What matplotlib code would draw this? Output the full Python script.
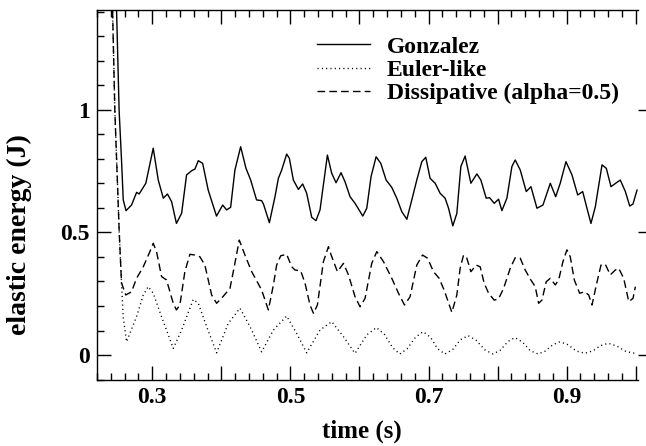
import matplotlib
matplotlib.use("Agg")
import matplotlib.pyplot as plt
from matplotlib.ticker import MultipleLocator, FixedLocator, FixedFormatter

# ---- data ----
gonz_t = [0.2455, 0.2483, 0.252, 0.2555, 0.258, 0.262, 0.270, 0.2774, 0.281, 0.2907,
          0.3014, 0.3087, 0.316, 0.322, 0.328, 0.335, 0.3425, 0.3497, 0.357, 0.3618,
          0.3667, 0.373, 0.381, 0.393, 0.402, 0.4077, 0.4135, 0.4197, 0.428, 0.4357,
          0.4425, 0.451, 0.4584, 0.461, 0.4696, 0.4777, 0.4826, 0.4874, 0.4946, 0.4985,
          0.5043, 0.5116, 0.5178, 0.5236, 0.5309, 0.537, 0.5429, 0.5536, 0.5599, 0.5661,
          0.5733, 0.5791, 0.5864, 0.5936, 0.5986, 0.6048, 0.6106, 0.6168, 0.6241, 0.6309,
          0.6386, 0.6468, 0.654, 0.6613, 0.6686, 0.6758, 0.683, 0.6903, 0.696, 0.7023,
          0.7096, 0.7168, 0.724, 0.729, 0.7352, 0.741, 0.7468, 0.753, 0.7613, 0.77,
          0.7758, 0.7835, 0.7884, 0.7951, 0.8014, 0.8062, 0.8135, 0.8207, 0.8255, 0.8328,
          0.8415, 0.8483, 0.857, 0.8657, 0.8763, 0.8841, 0.8907, 0.899, 0.9077, 0.916,
          0.9232, 0.9294, 0.9352, 0.9415, 0.9512, 0.9574, 0.9642, 0.972, 0.9777, 0.985,
          0.9913, 0.996, 1.0019]
gonz_e = [1.7, 1.41, 1.0, 0.796, 0.633, 0.589, 0.612, 0.664, 0.657, 0.701,
          0.844, 0.714, 0.640, 0.657, 0.626, 0.537, 0.578, 0.735, 0.752, 0.759,
          0.793, 0.782, 0.673, 0.567, 0.612, 0.592, 0.603, 0.755, 0.850, 0.762,
          0.714, 0.633, 0.630, 0.616, 0.540, 0.646, 0.721, 0.755, 0.820, 0.803,
          0.714, 0.676, 0.698, 0.660, 0.562, 0.548, 0.592, 0.816, 0.741, 0.703,
          0.744, 0.707, 0.646, 0.619, 0.596, 0.567, 0.599, 0.728, 0.809, 0.782,
          0.714, 0.684, 0.640, 0.585, 0.554, 0.633, 0.714, 0.789, 0.807, 0.721,
          0.701, 0.660, 0.640, 0.599, 0.527, 0.578, 0.769, 0.812, 0.701, 0.739,
          0.714, 0.640, 0.642, 0.619, 0.636, 0.589, 0.640, 0.769, 0.796, 0.755,
          0.667, 0.687, 0.599, 0.612, 0.701, 0.646, 0.701, 0.789, 0.735, 0.653,
          0.667, 0.599, 0.537, 0.605, 0.776, 0.762, 0.687, 0.703, 0.714, 0.667,
          0.608, 0.616, 0.673]

euler_t = [0.2405, 0.2425, 0.2458, 0.2522, 0.2555, 0.2579, 0.2628, 0.2772, 0.287, 0.2942,
           0.3014, 0.3135, 0.3304, 0.3425, 0.3594, 0.3667, 0.3787, 0.3932, 0.410, 0.427,
           0.4415, 0.4584, 0.4754, 0.4946, 0.5091, 0.5236, 0.5429, 0.5599, 0.5768, 0.5936,
           0.6106, 0.6246, 0.636, 0.648, 0.6584, 0.669, 0.681, 0.6922, 0.703, 0.713,
           0.7236, 0.735, 0.746, 0.7574, 0.769, 0.782, 0.7936, 0.804, 0.815, 0.8251,
           0.836, 0.847, 0.8588, 0.869, 0.880, 0.8903, 0.902, 0.914, 0.9265, 0.938,
           0.949, 0.9603, 0.973, 0.986, 0.999]
euler_e = [1.7, 1.41, 1.0, 0.5, 0.294, 0.156, 0.054, 0.156, 0.245, 0.279,
           0.252, 0.156, 0.027, 0.102, 0.227, 0.211, 0.116, 0.009, 0.129, 0.191,
           0.116, 0.013, 0.102, 0.159, 0.088, 0.009, 0.102, 0.136, 0.075, 0.007,
           0.082, 0.112, 0.085, 0.030, 0.004, 0.025, 0.072, 0.095, 0.072, 0.026,
           0.004, 0.022, 0.062, 0.079, 0.060, 0.020, 0.004, 0.020, 0.055, 0.071,
           0.053, 0.018, 0.004, 0.016, 0.042, 0.054, 0.042, 0.016, 0.007, 0.017,
           0.038, 0.048, 0.036, 0.014, 0.007]

diss_t = [0.2405, 0.2425, 0.2458, 0.2522, 0.2555, 0.2617, 0.270, 0.2773, 0.287, 0.2966,
          0.3014, 0.3062, 0.3135, 0.3207, 0.3304, 0.335, 0.34, 0.3472, 0.3545, 0.3617,
          0.369, 0.3762, 0.386, 0.3932, 0.4023, 0.4125, 0.4183, 0.426, 0.4342, 0.444,
          0.4584, 0.4681, 0.4754, 0.4801, 0.486, 0.4946, 0.5019, 0.5067, 0.515, 0.5212,
          0.5284, 0.5334, 0.5391, 0.5478, 0.5551, 0.5599, 0.5681, 0.5768, 0.5841, 0.5936,
          0.6009, 0.6081, 0.6178, 0.6251, 0.6348, 0.6468, 0.6565, 0.6652, 0.6733, 0.683,
          0.6913, 0.6986, 0.7072, 0.7154, 0.7226, 0.7338, 0.741, 0.7458, 0.7507, 0.7555,
          0.7613, 0.769, 0.7748, 0.7806, 0.787, 0.7951, 0.8014, 0.8087, 0.8183, 0.8255,
          0.8328, 0.84, 0.8473, 0.8545, 0.8594, 0.8642, 0.8704, 0.8763, 0.8835, 0.8884,
          0.8946, 0.9004, 0.9052, 0.9111, 0.9188, 0.9261, 0.9319, 0.9367, 0.943, 0.9497,
          0.956, 0.9632, 0.9705, 0.9754, 0.9826, 0.9899, 0.9961, 0.9995]
diss_e = [1.7, 1.41, 1.0, 0.5, 0.294, 0.245, 0.258, 0.313, 0.360, 0.422,
          0.456, 0.422, 0.320, 0.306, 0.211, 0.184, 0.204, 0.340, 0.411, 0.408,
          0.401, 0.367, 0.245, 0.211, 0.238, 0.272, 0.354, 0.469, 0.408, 0.340,
          0.265, 0.184, 0.286, 0.367, 0.405, 0.411, 0.360, 0.347, 0.343, 0.293,
          0.204, 0.170, 0.204, 0.381, 0.442, 0.401, 0.340, 0.374, 0.327, 0.238,
          0.197, 0.231, 0.374, 0.422, 0.381, 0.313, 0.252, 0.204, 0.238, 0.367,
          0.408, 0.395, 0.340, 0.313, 0.265, 0.174, 0.245, 0.354, 0.408, 0.395,
          0.340, 0.367, 0.360, 0.293, 0.252, 0.224, 0.229, 0.272, 0.354, 0.397,
          0.395, 0.347, 0.310, 0.279, 0.211, 0.224, 0.299, 0.313, 0.286, 0.306,
          0.381, 0.429, 0.401, 0.306, 0.252, 0.258, 0.245, 0.204, 0.286, 0.367,
          0.370, 0.327, 0.347, 0.354, 0.313, 0.218, 0.231, 0.279]

labels = ["Gonzalez", "Euler-like", "Dissipative (alpha=0.5)"]
x_major = [0.3, 0.4, 0.5, 0.6, 0.7, 0.8, 0.9, 1.0]
x_ticklabels = ["0.3", "", "0.5", "", "0.7", "", "0.9", ""]
y_major = [0, 0.5, 1.0]
y_ticklabels = ["0", "0.5", "1"]

# ---- figure ----
plt.rcParams['font.family'] = ['Liberation Serif', 'DejaVu Serif']
plt.rcParams['font.weight'] = 'bold'
plt.rcParams['font.size'] = 17

W, H = 646, 446
fig = plt.figure(figsize=(W / 100, H / 100), dpi=100)
L, R, T, B = 97, 638, 10, 380
ax = fig.add_axes([L / W, 1 - B / H, (R - L) / W, (B - T) / H])

ax.plot(gonz_t, gonz_e, color='black', lw=1.0, ls='-', label=labels[0])
ax.plot(euler_t, euler_e, color='black', lw=1.0, ls=(0, (0.8, 2.3)), label=labels[1])
ax.plot(diss_t, diss_e, color='black', lw=1.0, ls=(0, (5.5, 3.0)), label=labels[2])

ax.set_xlim(0.22, 1.0033)
ax.set_ylim(-0.102, 1.408)

ax.xaxis.set_major_locator(FixedLocator(x_major))
ax.xaxis.set_major_formatter(FixedFormatter(x_ticklabels))
ax.xaxis.set_minor_locator(MultipleLocator(0.02))
ax.yaxis.set_major_locator(FixedLocator(y_major))
ax.yaxis.set_major_formatter(FixedFormatter(y_ticklabels))
ax.yaxis.set_minor_locator(MultipleLocator(0.1))

ax.tick_params(which='both', direction='in', top=True, right=False, width=1.0, colors='black')
ax.tick_params(which='major', length=10, pad=5)
ax.tick_params(which='minor', length=5)
ax.spines['right'].set_visible(False)
for s in ['left', 'top', 'bottom']:
    ax.spines[s].set_linewidth(1.0)

# short outward marks on the (invisible) right edge at the major y values
axr = ax.twinx()
axr.set_ylim(ax.get_ylim())
axr.yaxis.set_major_locator(FixedLocator(y_major))
axr.yaxis.set_minor_locator(FixedLocator([]))
axr.tick_params(axis='y', which='major', direction='out', length=8, width=1.0,
                labelright=False)
for s in axr.spines.values():
    s.set_visible(False)

ax.set_xlabel("time (s)", fontweight='bold', fontsize=18)
ax.set_ylabel("elastic energy (J)", fontweight='bold', fontsize=20)
ax.xaxis.set_label_coords(0.489, -0.108)
ax.yaxis.set_label_coords(-0.12, 0.392)

leg = ax.legend(loc='upper left', bbox_to_anchor=(317 / W, 1 - 36 / H),
                bbox_transform=fig.transFigure, frameon=False, borderpad=0,
                borderaxespad=0, handlelength=2.25, handletextpad=0.7,
                labelspacing=0.08, prop={'family': 'Liberation Serif', 'weight': 'bold', 'size': 17})

fig.savefig("out.png", dpi=100)
